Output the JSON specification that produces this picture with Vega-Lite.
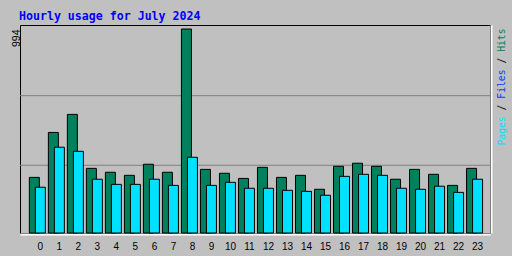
{
  "$schema": "https://vega.github.io/schema/vega-lite/v6.json",
  "width": 470,
  "height": 208,
  "autosize": {"type": "none"},
  "padding": {"left": 20, "top": 25, "right": 22, "bottom": 23},
  "background": "#C0C0C0",
  "title": {
    "text": "Hourly usage for July 2024",
    "anchor": "start",
    "frame": "group",
    "font": "DejaVu Sans Mono",
    "fontSize": 11.6,
    "fontWeight": "bold",
    "color": "#0000FF",
    "baseline": "alphabetic",
    "offset": 6,
    "dx": -1,
    "dy": 13
  },
  "config": {
    "view": {"stroke": "#000000", "strokeWidth": 1, "fill": "#C0C0C0"},
    "axis": {"labelColor": "#000000"}
  },
  "data": {
    "values": [
      {"hour": 0, "hits": 271, "pages": 223},
      {"hour": 1, "hits": 490, "pages": 418},
      {"hour": 2, "hits": 578, "pages": 398},
      {"hour": 3, "hits": 315, "pages": 262},
      {"hour": 4, "hits": 296, "pages": 237},
      {"hour": 5, "hits": 281, "pages": 237},
      {"hour": 6, "hits": 335, "pages": 262},
      {"hour": 7, "hits": 296, "pages": 232},
      {"hour": 8, "hits": 994, "pages": 369},
      {"hour": 9, "hits": 310, "pages": 232},
      {"hour": 10, "hits": 291, "pages": 247},
      {"hour": 11, "hits": 266, "pages": 218},
      {"hour": 12, "hits": 320, "pages": 218},
      {"hour": 13, "hits": 271, "pages": 208},
      {"hour": 14, "hits": 281, "pages": 203},
      {"hour": 15, "hits": 213, "pages": 184},
      {"hour": 16, "hits": 325, "pages": 276},
      {"hour": 17, "hits": 340, "pages": 286},
      {"hour": 18, "hits": 325, "pages": 281},
      {"hour": 19, "hits": 262, "pages": 218},
      {"hour": 20, "hits": 310, "pages": 213},
      {"hour": 21, "hits": 286, "pages": 228},
      {"hour": 22, "hits": 232, "pages": 198},
      {"hour": 23, "hits": 315, "pages": 262}
    ]
  },
  "resolve": {"axis": {"y": "independent"}},
  "layer": [
    {
      "data": {"values": [{"g": 330}, {"g": 669}]},
      "mark": {"type": "rule", "color": "#808080", "strokeWidth": 1},
      "encoding": {
        "y": {"field": "g", "type": "quantitative", "scale": {"domain": [0, 1013.5], "nice": false, "zero": true}, "axis": null}
      }
    },
    {
      "mark": {"type": "bar", "width": 10, "xOffset": -3, "fill": "#00805C", "stroke": "#000000", "strokeWidth": 1},
      "encoding": {
        "x": {
          "field": "hour", "type": "ordinal",
          "scale": {"paddingInner": 0, "paddingOuter": 0.362, "align": 0.57},
          "axis": {"title": null, "ticks": false, "domainColor": "#FFFFFF", "domainWidth": 2, "offset": 1, "labelAngle": 0, "labelFont": "Liberation Sans", "labelFontSize": 10, "labelPadding": 7, "labelOffset": 3, "labelBaseline": "top"}
        },
        "y": {
          "field": "hits", "type": "quantitative",
          "scale": {"domain": [0, 1013.5], "nice": false, "zero": true},
          "axis": {"orient": "left", "values": [994], "title": null, "ticks": false, "domain": false, "grid": false, "labelAngle": 270, "labelAlign": "right", "labelBaseline": "alphabetic", "labelPadding": 1, "labelFont": "Liberation Sans", "labelFontSize": 10.5, "labelFlush": false, "labelOverlap": false, "labelBound": false}
        }
      }
    },
    {
      "mark": {"type": "bar", "width": 10, "xOffset": 3, "fill": "#00E0FF", "stroke": "#000000", "strokeWidth": 1},
      "encoding": {
        "x": {
          "field": "hour", "type": "ordinal",
          "scale": {"paddingInner": 0, "paddingOuter": 0.362, "align": 0.57},
          "axis": {"title": null, "ticks": false, "domainColor": "#FFFFFF", "domainWidth": 2, "offset": 1, "labelAngle": 0, "labelFont": "Liberation Sans", "labelFontSize": 10, "labelPadding": 7, "labelOffset": 3, "labelBaseline": "top"}
        },
        "y": {
          "field": "pages", "type": "quantitative",
          "scale": {"domain": [0, 1013.5], "nice": false, "zero": true},
          "axis": {
            "orient": "right", "values": [500, 614, 728, 842, 942], "title": null, "ticks": false,
            "domain": true, "domainColor": "#FFFFFF", "domainWidth": 2, "offset": 1, "grid": false,
            "labelAngle": 270, "labelAlign": "center", "labelBaseline": "top", "labelPadding": 5,
            "labelFont": "DejaVu Sans Mono", "labelFontSize": 9.7, "labelOverlap": false, "labelFlush": false, "labelBound": false,
            "labelExpr": "datum.value < 560 ? 'Pages' : datum.value < 670 ? '/' : datum.value < 780 ? 'Files' : datum.value < 890 ? '/' : 'Hits'",
            "labelColor": {
              "condition": [
                {"test": "datum.value < 560", "value": "#00E0FF"},
                {"test": "datum.value > 670 && datum.value < 780", "value": "#0040FF"},
                {"test": "datum.value > 890", "value": "#00805C"}
              ],
              "value": "#000000"
            }
          }
        }
      }
    }
  ]
}
